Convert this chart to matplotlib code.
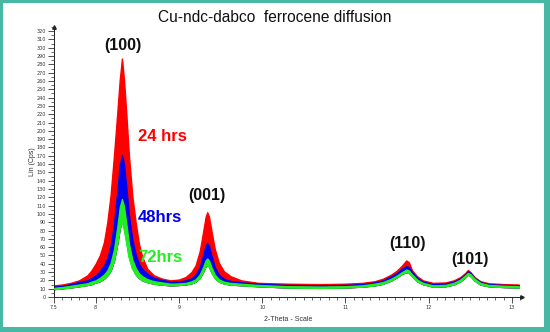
import matplotlib
matplotlib.use("Agg")
import matplotlib.pyplot as plt
from matplotlib.patches import Rectangle
from matplotlib.ticker import MultipleLocator

# 2-theta positions and envelope intensities (Cps) of the scan bundles
two_theta = [7.50, 7.60, 7.70, 7.80, 7.90, 7.95, 8.00, 8.05, 8.10, 8.14, 8.18, 8.22,
             8.26, 8.29, 8.316, 8.34, 8.37, 8.40, 8.44, 8.48, 8.52, 8.56, 8.62, 8.70,
             8.80, 8.90, 9.00, 9.08, 9.15, 9.20, 9.25, 9.29, 9.32, 9.34, 9.36, 9.39,
             9.43, 9.48, 9.54, 9.62, 9.75, 9.95, 10.3, 10.7, 11.0, 11.2, 11.35, 11.45,
             11.55, 11.62, 11.68, 11.73, 11.76, 11.80, 11.86, 11.93, 12.05, 12.2, 12.3,
             12.38, 12.44, 12.47, 12.50, 12.55, 12.62, 12.72, 12.9, 13.08]

hrs24_top = [14, 15, 17, 20, 26, 32, 40, 50, 66, 90, 123, 170,
             222, 262, 287, 262, 218, 170, 122, 90, 64, 48, 34, 26,
             22, 20, 21, 24, 30, 38, 55, 78, 96, 102, 97, 80,
             58, 41, 31, 25, 20, 17, 16, 15.5, 16, 17, 19, 22,
             27, 32, 38, 44, 42, 32, 25, 20, 17, 17.5, 20,
             24, 29, 32.5, 30, 24, 19, 16.5, 15.5, 15]

hrs48_top = [12.5, 13.5, 15.5, 18, 20, 23, 26, 31, 38, 47, 62, 88,
             127, 159, 171, 160, 130, 98, 69, 51, 40, 33.5, 28, 23,
             20.5, 18.5, 18.5, 20, 22.6, 27, 36, 50, 61.8, 65, 61.8, 50,
             36, 27, 22, 19.3, 17.6, 16, 14.5, 14, 14.5, 15.5, 17.5, 20,
             25, 29, 34, 37, 36, 30, 23, 18.5, 15.5, 16, 18.5,
             22.5, 27.5, 31, 29, 23, 18, 15.5, 14.5, 14]

hrs72_top = [11, 12, 13.5, 15, 16.5, 18.5, 20, 23, 27, 32, 41, 57,
             84, 108, 118, 109, 87, 64, 45, 35, 28.5, 25, 21.5, 19,
             17.5, 16, 16.3, 17, 18.8, 21.3, 27, 36, 44, 46.5, 44, 36,
             27, 21.3, 18.4, 16.9, 15.9, 14.5, 13, 12.5, 13, 14, 16, 18,
             22, 26, 30, 33, 32, 27, 21, 17, 14, 14.5, 17,
             21, 26, 29, 27.5, 22, 17, 14.5, 13.5, 13]

hrs72_bottom = [9.5, 10.5, 11.5, 13, 14.5, 15.5, 17.5, 19, 22, 26, 32, 44,
                64.5, 83, 91, 84, 67, 49, 35, 27.5, 23, 20, 18, 16,
                15, 14, 14.5, 15.2, 16.5, 18.6, 23, 30.4, 37, 39, 37, 30.4,
                23, 18.6, 16.3, 15, 14.2, 13, 11.5, 11, 11.5, 12.5, 14, 16,
                20, 24, 28, 30, 29, 25, 19, 15.5, 12.5, 13, 15,
                19, 24, 27, 25.5, 20, 15, 13, 12, 11.5]

peak_labels = ["(100)", "(001)", "(110)", "(101)"]
peak_pos = [8.33, 9.33, 11.74, 12.49]
label_heights = [303, 122, 64, 45]

series_names = ["24 hrs", "48hrs", "72hrs"]
series_colors = ["#ff0000", "#0000ee", "#22ee22"]
name_heights = [193, 96, 48]

fig = plt.figure(figsize=(5.5, 3.32), dpi=100)
fig.patch.set_facecolor("#47b8a3")
fig.add_artist(Rectangle((3 / 550, 5 / 332), 541 / 550, 324 / 332,
                         transform=fig.transFigure, facecolor="white",
                         edgecolor="none", zorder=-10))

ax = fig.add_axes([54 / 550, 35 / 332, 468 / 550, 270 / 332])
ax.set_facecolor("none")
ax.set_zorder(1)

# red bundle first, blue and green scans overlaid on top of it
for top, color in zip([hrs24_top, hrs48_top, hrs72_top], series_colors):
    ax.fill_between(two_theta, hrs72_bottom, top, color=color, lw=1.0, zorder=2)
ax.plot(two_theta, hrs72_bottom, color="#22ee22", lw=1.2, zorder=3)

ax.set_xlim(7.5, 13.12)
ax.set_ylim(0, 325)
ax.xaxis.set_minor_locator(MultipleLocator(0.1))
ax.yaxis.set_minor_locator(MultipleLocator(5))
ax.set_xticks([7.5, 8, 9, 10, 11, 12, 13])
ax.set_xticklabels(["7.5", "8", "9", "10", "11", "12", "13"])
ax.set_yticks(range(0, 321, 10))
ax.tick_params(which="major", length=4, width=0.6, labelsize=3.5, colors="#333333", pad=2)
ax.tick_params(which="minor", length=2, width=0.5, colors="#333333")
ax.spines["top"].set_visible(False)
ax.spines["right"].set_visible(False)
for s in ["left", "bottom"]:
    ax.spines[s].set_linewidth(0.7)
    ax.spines[s].set_color("#222222")
ax.plot(1, 0, ">", color="#222222", ms=2.5, transform=ax.transAxes, clip_on=False)
ax.plot(0, 1, "^", color="#222222", ms=2.5, transform=ax.transAxes, clip_on=False)

ax.set_xlabel("2-Theta - Scale", fontsize=5, family="Liberation Sans", color="#333333", labelpad=4)
ax.set_ylabel("Lin (Cps)", fontsize=5, family="Liberation Sans", color="#333333", labelpad=0.5)

for text, x, y in zip(peak_labels, peak_pos, label_heights):
    ax.text(x, y, text, ha="center", va="center", fontsize=11.5, fontweight="bold",
            family="Liberation Sans", color="#111111", zorder=5)

for text, color, y in zip(series_names, series_colors, name_heights):
    ax.text(8.51, y, text, ha="left", va="center", fontsize=12, fontweight="bold",
            family="Liberation Sans", color=color, zorder=5)

fig.text(0.5, 1 - 17 / 332, "Cu-ndc-dabco  ferrocene diffusion", ha="center", va="center",
         fontsize=11.2, family="Liberation Sans", color="#111111")

fig.savefig("out.png", dpi=100, facecolor=fig.get_facecolor())
